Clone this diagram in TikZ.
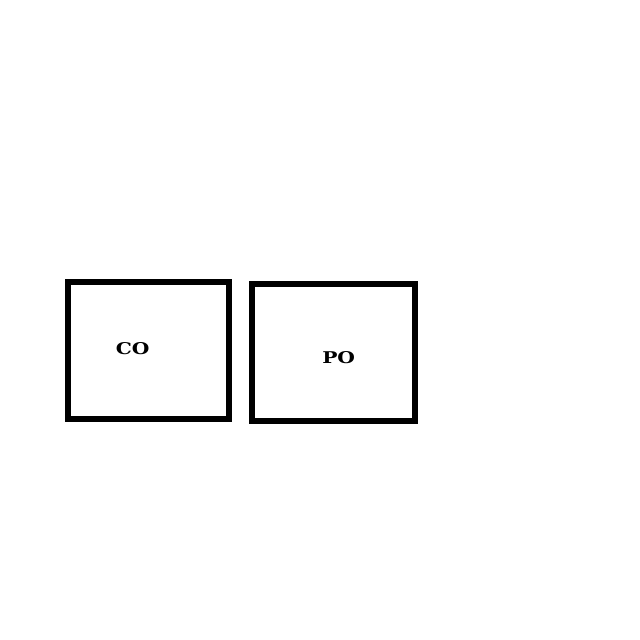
\documentclass[tikz,border=0pt]{standalone}
\usepackage{fontspec}
\newfontfamily\boxfont[FakeStretch=1.25]{DejaVu Serif}
\usepackage{tikz}
\usetikzlibrary{positioning}

\begin{document}
\begin{tikzpicture}[
    node distance=0.425cm,
    unit/.style={draw=black, line width=4.3pt, fill=white,
                 minimum width=4.04cm, minimum height=3.41cm, inner sep=0pt},
    tag/.style={font=\boxfont\bfseries\fontsize{11.5}{12}\selectfont, inner sep=0pt},
  ]
    \useasboundingbox (0,0) rectangle (16,-16);
    \node[unit] (co) at (3.71,-8.76) {};
    \node[unit, right=of co, yshift=-0.05cm, minimum width=4.06cm, minimum height=3.43cm] (po) {};
    \node[tag] (colabel) at ([xshift=-0.395cm, yshift=0.055cm]co.center) {CO};
    \node[tag] (polabel) at ([xshift=0.13cm, yshift=-0.125cm]po.center) {PO};
  \end{tikzpicture}
\end{document}
